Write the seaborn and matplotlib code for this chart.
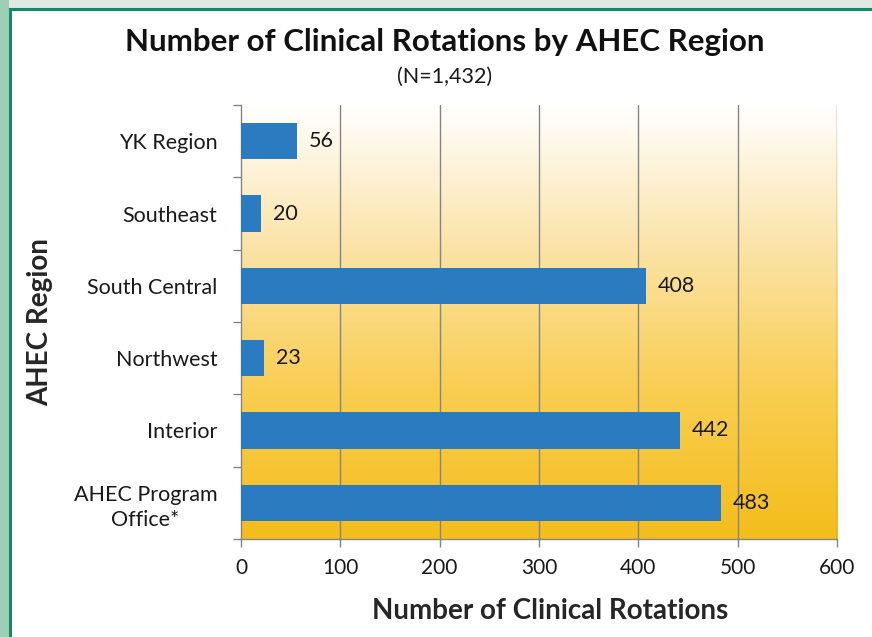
import numpy as np
import pandas as pd
import matplotlib.pyplot as plt
import matplotlib.patches as mpatches
from matplotlib.colors import LinearSegmentedColormap
import seaborn as sns

# === DATA ===
REGIONS = ["YK Region", "Southeast", "South Central", "Northwest", "Interior",
           "AHEC Program\nOffice*"]
ROTATIONS = [56, 20, 408, 23, 442, 483]
X_TICKS = [0, 100, 200, 300, 400, 500, 600]

TITLE = "Number of Clinical Rotations by AHEC Region"
SUBTITLE = "(N=1,432)"

BAR_COLOR = "#2A7BC0"
GRID_COLOR = "#858585"

sns.set_theme(style="white")
plt.rcParams["font.family"] = ["Lato", "DejaVu Sans"]


def main():
    df = pd.DataFrame({"Region": REGIONS, "Rotations": ROTATIONS})

    fig = plt.figure(figsize=(8.72, 6.37), dpi=100)
    fig.patch.set_facecolor("#dfeae4")
    # light green strip on the left, then white panel with dark green frame
    fig.patches.append(mpatches.Rectangle((0, 0), 9 / 872, 1, transform=fig.transFigure,
                                          facecolor="#9ccfb4", edgecolor="none", zorder=-2))
    fig.patches.append(mpatches.Rectangle((10 / 872, -0.05), 1.0, 1.05 - 8.5 / 637,
                                          transform=fig.transFigure, facecolor="white",
                                          edgecolor="#168a68", linewidth=2.2, zorder=-1))

    ax = fig.add_axes([241 / 872, 1 - 539 / 637, (837 - 241) / 872, (539 - 105) / 637])
    ax.set_facecolor("none")

    # gradient background: white on top -> gold at bottom
    cmap = LinearSegmentedColormap.from_list("gold", ["#ffffff", "#fbe3a6", "#f9cd4f", "#f4bd1c"])
    grad = np.linspace(0, 1, 256).reshape(-1, 1)
    ax.imshow(grad, aspect="auto", cmap=cmap, extent=[0, 1, 0, 1], transform=ax.transAxes,
              zorder=0, origin="upper")

    sns.barplot(data=df, x="Rotations", y="Region", orient="h", color=BAR_COLOR,
                saturation=1, width=0.5, linewidth=0, ax=ax, zorder=3)

    ax.set_xlim(0, 600)
    ax.set_ylim(len(REGIONS) - 0.5, -0.5)
    ax.set_xticks(X_TICKS)
    ax.set_xticklabels([str(t) for t in X_TICKS], fontsize=15, color="#1a1a1a")

    # category ticks between bars
    ax.set_yticks(np.arange(len(REGIONS)))
    ax.set_yticklabels(REGIONS, fontsize=15.5, color="#1a1a1a")
    for lbl in ax.get_yticklabels():
        lbl.set_multialignment("center")
        lbl.set_linespacing(1.35)
    ax.tick_params(axis="y", which="major", length=0, pad=17)
    ax.set_yticks(np.arange(len(REGIONS) + 1) - 0.5, minor=True)
    ax.tick_params(axis="y", which="minor", length=6, color=GRID_COLOR, width=1, left=True)
    ax.tick_params(axis="x", which="major", length=6, color=GRID_COLOR, width=1, bottom=True, pad=8)

    for x in X_TICKS[1:]:
        ax.axvline(x, color=GRID_COLOR, linewidth=1, zorder=1)

    for s in ["top", "right"]:
        ax.spines[s].set_visible(False)
    for s in ["left", "bottom"]:
        ax.spines[s].set_color(GRID_COLOR)
        ax.spines[s].set_linewidth(1)

    for i, v in enumerate(ROTATIONS):
        ax.text(v + 12, i, str(v), va="center", ha="left", fontsize=15.5, color="#1a1a1a", zorder=4)

    ax.set_xlabel("Number of Clinical Rotations", fontsize=20, fontweight="bold")
    ax.set_ylabel("AHEC Region", fontsize=20, fontweight="bold")
    ax.xaxis.set_label_coords(0.518, -0.136)
    ax.yaxis.set_label_coords(-0.315, 0.5)

    fig.text(445 / 872, 1 - 42 / 637, TITLE, ha="center", va="center", fontsize=22.5,
             fontweight="bold", color="#111111")
    fig.text(445 / 872, 1 - 77 / 637, SUBTITLE, ha="center", va="center", fontsize=15.5,
             color="#1a1a1a")

    fig.savefig("out.png", dpi=100, facecolor=fig.get_facecolor())
    plt.close(fig)


if __name__ == "__main__":
    main()
